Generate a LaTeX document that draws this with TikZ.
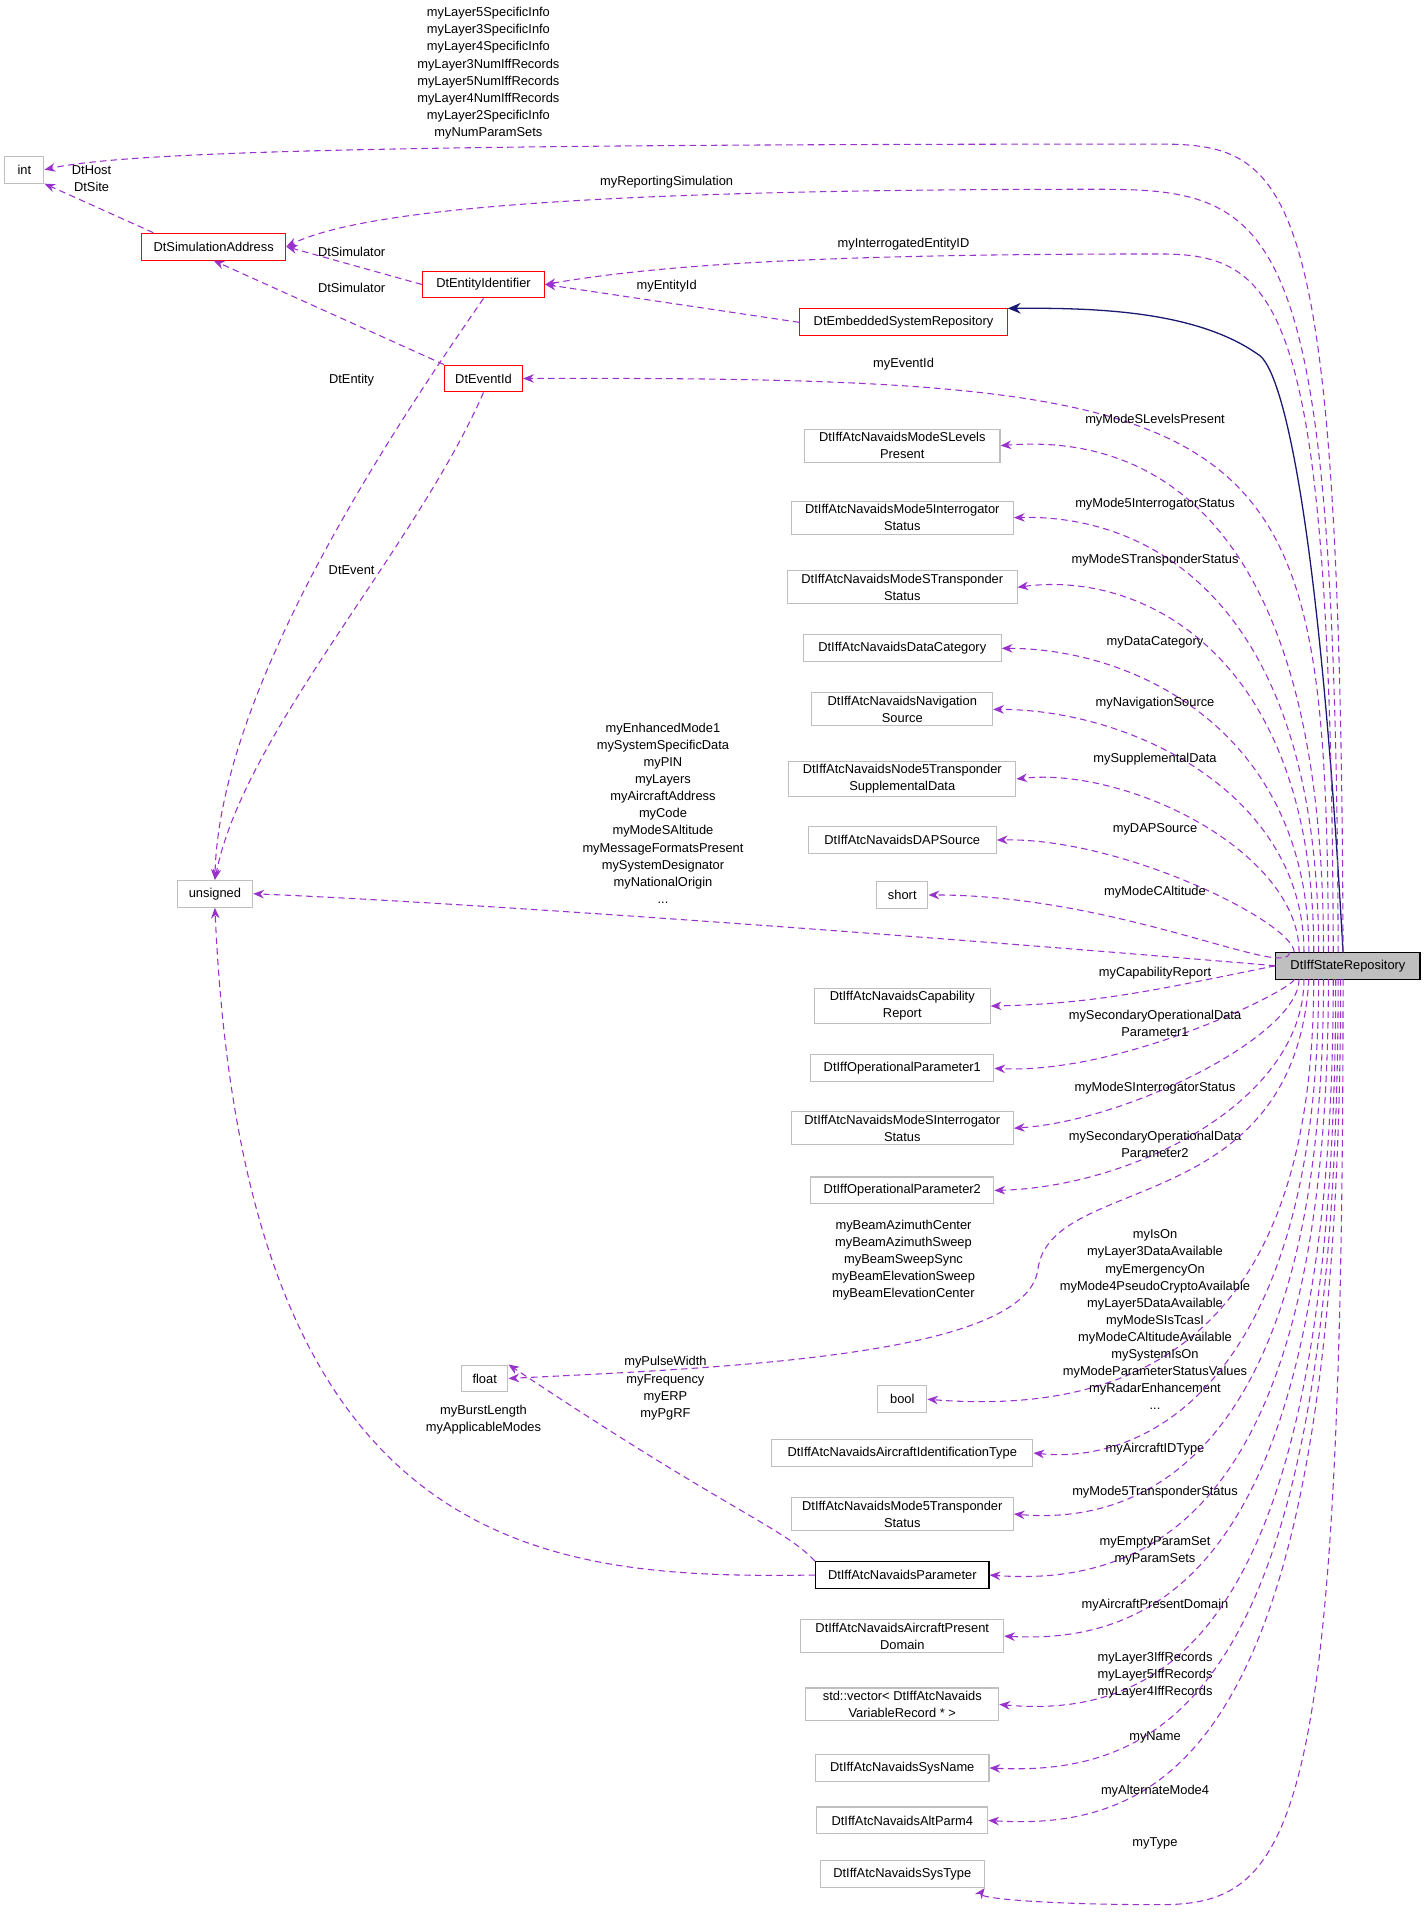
\documentclass[tikz,border=0pt]{standalone}
\usepackage{fontspec}
\setmainfont{Liberation Sans}
\usetikzlibrary{arrows.meta}
\definecolor{pur}{RGB}{153,50,204}
\definecolor{gbd}{RGB}{191,191,191}
\definecolor{nav}{RGB}{25,25,112}
\begin{document}
\begin{tikzpicture}[x=0.02cm,y=-0.02cm,
  font=\fontsize{6}{7.97}\selectfont,
  box/.style={draw=gbd,line width=0.5pt,inner sep=1.5pt,minimum height=0.44cm,align=center},
  rbox/.style={box,draw=red},
  dep/.style={pur,densely dashed,line width=0.5pt,-{Stealth[length=5pt,width=4pt]}},
  lab/.style={align=center,inner sep=0pt}]
\useasboundingbox (0,0) rectangle (1166,1566);
\newcommand\depup[3]{\draw[dep] (#1,780) .. controls (#1,#3+70) and (#1-140,#3) .. (#2.east);}
\newcommand\depdn[3]{\draw[dep] (#1,802) .. controls (#1,#3-70) and (#1-140,#3) .. (#2.east);}
\node[box,minimum width=32*0.02cm] (int) at (20,139) {int};
\node[rbox,minimum width=118*0.02cm] (sa) at (175,202) {DtSimulationAddress};
\node[rbox,minimum width=100*0.02cm] (ei) at (396,233) {DtEntityIdentifier};
\node[rbox,minimum width=170*0.02cm] (es) at (740,264) {DtEmbeddedSystemRepository};
\node[rbox,minimum width=64*0.02cm] (ev) at (396,310) {DtEventId};
\node[box,minimum width=160*0.02cm] (n1) at (739,365) {DtIffAtcNavaidsModeSLevels\\Present};
\node[box,minimum width=182*0.02cm] (n2) at (739,424) {DtIffAtcNavaidsMode5Interrogator\\Status};
\node[box,minimum width=188*0.02cm] (n3) at (739,481) {DtIffAtcNavaidsModeSTransponder\\Status};
\node[box,minimum width=162*0.02cm] (n4) at (739,531) {DtIffAtcNavaidsDataCategory};
\node[box,minimum width=148*0.02cm] (n5) at (739,581) {DtIffAtcNavaidsNavigation\\Source};
\node[box,minimum width=186*0.02cm] (n6) at (739,638) {DtIffAtcNavaidsNode5Transponder\\SupplementalData};
\node[box,minimum width=154*0.02cm] (n7) at (739,688) {DtIffAtcNavaidsDAPSource};
\node[box,minimum width=42*0.02cm] (sh) at (739,733) {short};
\node[box,minimum width=62*0.02cm] (un) at (176,732) {unsigned};
\node[box,minimum width=144*0.02cm] (n8) at (739,824) {DtIffAtcNavaidsCapability\\Report};
\node[box,minimum width=150*0.02cm] (n9) at (739,875) {DtIffOperationalParameter1};
\node[box,minimum width=182*0.02cm] (n10) at (739,924) {DtIffAtcNavaidsModeSInterrogator\\Status};
\node[box,minimum width=150*0.02cm] (n11) at (739,975) {DtIffOperationalParameter2};
\node[box,minimum width=38*0.02cm] (fl) at (397,1129) {float};
\node[box,minimum width=40*0.02cm] (bo) at (739,1146) {bool};
\node[box,minimum width=214*0.02cm] (n12) at (739,1190) {DtIffAtcNavaidsAircraftIdentificationType};
\node[box,minimum width=182*0.02cm] (n13) at (739,1240) {DtIffAtcNavaidsMode5Transponder\\Status};
\node[box,draw=black,minimum width=142*0.02cm] (pa) at (739,1290) {DtIffAtcNavaidsParameter};
\node[box,minimum width=166*0.02cm] (n14) at (739,1340) {DtIffAtcNavaidsAircraftPresent\\Domain};
\node[box,minimum width=158*0.02cm] (n15) at (739,1396) {std::vector< DtIffAtcNavaids\\VariableRecord * >};
\node[box,minimum width=142*0.02cm] (n16) at (739,1448) {DtIffAtcNavaidsSysName};
\node[box,minimum width=140*0.02cm] (n17) at (739,1491) {DtIffAtcNavaidsAltParm4};
\node[box,minimum width=134*0.02cm] (n18) at (739,1535) {DtIffAtcNavaidsSysType};
\node[box,draw=black,fill=gbd,minimum width=118*0.02cm] (S) at (1104,791) {DtIffStateRepository};
% inheritance
\draw[nav,line width=0.6pt,-{Stealth[length=6pt,width=5pt]}] (1100,780) .. controls (1080,420) and (1050,300) .. (1030,290) .. controls (980,255) and (900,252) .. (es.north east);
% internal
\draw[dep] (sa.north west) ++(10,0) -- (int.south east);
\node[lab] at (75,146) {DtHost\\DtSite};
\draw[dep] (ei.west) -- (sa.east);
\node[lab] at (288,206) {DtSimulator};
\draw[dep] (ev.north west) -- (sa.south);
\node[lab] at (288,236) {DtSimulator};
\draw[dep] (es.west) -- (ei.east);
\node[lab] at (546,234) {myEntityId};
\draw[dep] (ei.south) .. controls (330,340) and (180,560) .. (un.north);
\node[lab] at (288,311) {DtEntity};
\draw[dep] (ev.south) .. controls (340,450) and (200,600) .. (un.north);
\node[lab] at (288,467) {DtEvent};
\draw[dep] (pa.west) .. controls (450,1293) and (200,1280) .. (un.south);
\node[lab] at (396,1163) {myBurstLength\\myApplicableModes};
\draw[dep] (pa.north west) .. controls (640,1250) and (600,1240) .. (fl.north east);
\node[lab] at (545,1137) {myPulseWidth\\myFrequency\\myERP\\myPgRF};
% from S
\draw[dep] (1100,780) .. controls (1098,150) and (1060,118) .. (950,118) .. controls (300,118) and (100,125) .. (int.east);
\node[lab] at (400,60) {myLayer5SpecificInfo\\myLayer3SpecificInfo\\myLayer4SpecificInfo\\myLayer3NumIffRecords\\myLayer5NumIffRecords\\myLayer4NumIffRecords\\myLayer2SpecificInfo\\myNumParamSets};
\draw[dep] (1096,780) .. controls (1094,180) and (1050,155) .. (900,155) .. controls (500,155) and (300,170) .. (sa.east);
\node[lab] at (546,149) {myReportingSimulation};
\draw[dep] (1092,780) .. controls (1090,250) and (1050,208) .. (950,208) .. controls (700,208) and (550,215) .. (ei.east);
\node[lab] at (740,200) {myInterrogatedEntityID};
\draw[dep] (1088,780) .. controls (1086,340) and (1050,308) .. (ev.east);
\node[lab] at (740,298) {myEventId};
\depup{1084}{n1}{355}\node[lab] at (946,344) {myModeSLevelsPresent};
\depup{1080}{n2}{421}\node[lab] at (946,413) {myMode5InterrogatorStatus};
\depup{1076}{n3}{467}\node[lab] at (946,459) {myModeSTransponderStatus};
\depup{1072}{n4}{531}\node[lab] at (946,526) {myDataCategory};
\depup{1068}{n5}{581}\node[lab] at (946,576) {myNavigationSource};
\depup{1064}{n6}{628}\node[lab] at (946,622) {mySupplementalData};
\depup{1060}{n7}{686}\node[lab] at (946,679) {myDAPSource};
\depup{1056}{sh}{733}\node[lab] at (946,731) {myModeCAltitude};
\draw[dep] (S.west) .. controls (800,770) and (400,740) .. (un.east);
\node[lab] at (543,666) {myEnhancedMode1\\mySystemSpecificData\\myPIN\\myLayers\\myAircraftAddress\\myCode\\myModeSAltitude\\myMessageFormatsPresent\\mySystemDesignator\\myNationalOrigin\\...};
\draw[dep] (S.west) .. controls (950,810) and (900,822) .. (n8.east);
\node[lab] at (946,797) {myCapabilityReport};
\depdn{1060}{n9}{880}\node[lab] at (946,838) {mySecondaryOperationalData\\Parameter1};
\depdn{1064}{n10}{918}\node[lab] at (946,891) {myModeSInterrogatorStatus};
\depdn{1068}{n11}{972}\node[lab] at (946,937) {mySecondaryOperationalData\\Parameter2};
\draw[dep] (1072,802) .. controls (1060,1000) and (860,960) .. (850,1040) .. controls (840,1110) and (600,1120) .. (fl.east);
\node[lab] at (740,1032) {myBeamAzimuthCenter\\myBeamAzimuthSweep\\myBeamSweepSync\\myBeamElevationSweep\\myBeamElevationCenter};
\depdn{1076}{bo}{1160}\node[lab] at (946,1081) {myIsOn\\myLayer3DataAvailable\\myEmergencyOn\\myMode4PseudoCryptoAvailable\\myLayer5DataAvailable\\myModeSIsTcasI\\myModeCAltitudeAvailable\\mySystemIsOn\\myModeParameterStatusValues\\myRadarEnhancement\\...};
\depdn{1080}{n12}{1200}\node[lab] at (946,1187) {myAircraftIDType};
\depdn{1084}{n13}{1250}\node[lab] at (946,1222) {myMode5TransponderStatus};
\depdn{1088}{pa}{1300}\node[lab] at (946,1270) {myEmptyParamSet\\myParamSets};
\depdn{1092}{n14}{1347}\node[lab] at (946,1315) {myAircraftPresentDomain};
\depdn{1094}{n15}{1408}\node[lab] at (946,1372) {myLayer3IffRecords\\myLayer5IffRecords\\myLayer4IffRecords};
\depdn{1096}{n16}{1455}\node[lab] at (946,1423) {myName};
\depdn{1098}{n17}{1500}\node[lab] at (946,1467) {myAlternateMode4};
\draw[dep] (1100,802) .. controls (1100,1500) and (1060,1560) .. (950,1560) .. controls (860,1560) and (800,1555) .. (n18.south east);
\node[lab] at (946,1510) {myType};
\end{tikzpicture}
\end{document}
